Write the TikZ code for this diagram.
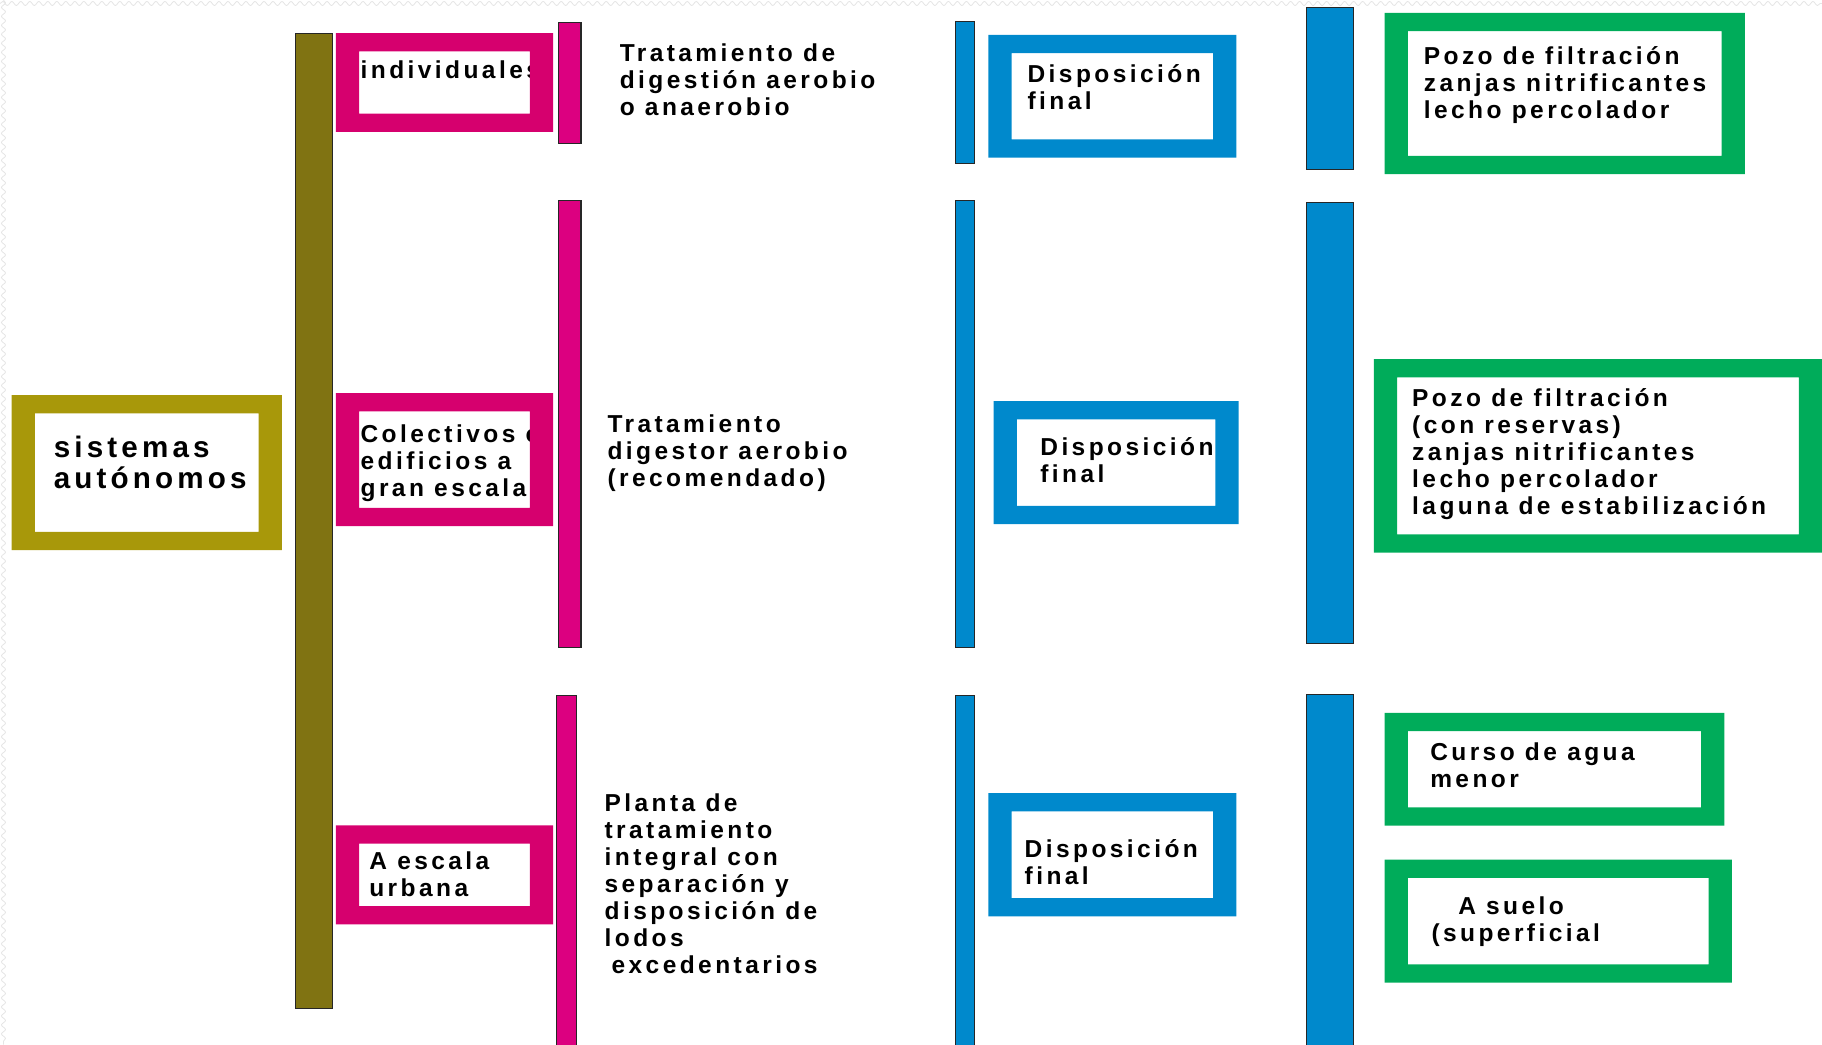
\documentclass[tikz,border=0pt]{standalone}
\usepackage{fontspec}
\newfontfamily\rotfont{Liberation Sans}[LetterSpace=14]
\usetikzlibrary{decorations.pathmorphing}

\definecolor{oro}{RGB}{168,152,10}
\definecolor{oliva}{RGB}{128,115,18}
\definecolor{rosa}{RGB}{214,0,110}
\definecolor{rosabar}{RGB}{220,0,128}
\definecolor{azul}{RGB}{0,137,204}
\definecolor{verde}{RGB}{0,172,90}

\tikzset{
  barra/.style={fill=#1, draw=black!85, line width=0.5pt},
  rotulo/.style={font=\rotfont\bfseries\fontsize{12}{13.2}\selectfont,
    align=left, anchor=base west, inner sep=0pt},
}
% marco de color: color, x1, y1, x2, y2
\newcommand{\marco}[5]{%
  \fill[#1, even odd rule] (#2,#3) rectangle (#4,#5)
    ({#2+20},{#3+15.7}) rectangle ({#4-20},{#5-15.7});}

\begin{document}
\begin{tikzpicture}[x=0.2mm,y=-0.2mm]
\useasboundingbox (0,0) rectangle (1568,899);
\draw[black!10, decorate, decoration={snake, segment length=1.55mm, amplitude=0.35mm}] (0,3) -- (1568,3);
\draw[black!10, decorate, decoration={snake, segment length=1.55mm, amplitude=0.35mm}] (3,0) -- (3,899);

% textos (anclados en la linea base de la ultima linea)
\node[rotulo, font=\rotfont\bfseries\fontsize{14.5}{15.3}\selectfont] (sis) at (46,420.4) {sistemas\\autónomos};
\node[rotulo] (indiv) at (310,67.5) {individuales};
\node[rotulo] (colec) at (310,427) {Colectivos o\\edificios a\\gran escala};
\node[rotulo] (urb) at (317.5,771.6) {A escala\\urbana};
\node[rotulo] (trat1) at (533,99) {Tratamiento de\\digestión aerobio\\o anaerobio};
\node[rotulo] (trat2) at (522.5,419) {Tratamiento\\digestor aerobio\\(recomendado)};
\node[rotulo] (planta) at (520,837.9) {Planta de\\tratamiento\\integral con\\separación y\\disposición de\\lodos\\\hspace*{1.2mm}excedentarios};
\node[rotulo] (disp1) at (884,94.6) {Disposición\\final};
\node[rotulo] (disp2) at (895,415.5) {Disposición\\final};
\node[rotulo] (disp3) at (881.5,761.5) {Disposición\\final};
\node[rotulo] (pozo1) at (1225,101.8) {Pozo de filtración\\zanjas nitrificantes\\lecho percolador};
\node[rotulo] (pozo2) at (1215,442.8) {Pozo de filtración\\(con reservas)\\zanjas nitrificantes\\lecho percolador\\laguna de estabilización};
\node[rotulo] (curso) at (1230.5,678) {Curso de agua\\menor};
\node[rotulo] (suelo) at (1231.6,810) {\hspace*{4.6mm}A suelo\\(superficial};

% marcos
\marco{oro}{10}{340}{242.5}{473.4}
\marco{rosa}{289}{28.5}{476}{113.4}
\marco{rosa}{289}{338.4}{476}{452.7}
\marco{rosa}{289}{710.3}{476}{795.5}
\marco{azul}{850.5}{30}{1064}{135.6}
\marco{azul}{855}{345.3}{1066}{451}
\marco{azul}{850.5}{682.6}{1064}{788.6}
\marco{verde}{1191.5}{11}{1501.6}{149.8}
\marco{verde}{1182.4}{309}{1568}{475.5}
\marco{verde}{1191.5}{613.4}{1484}{710.6}
\marco{verde}{1191.5}{739.7}{1490.5}{845.7}

% barras
\draw[barra=oliva] (254,29) rectangle (286,867.7);
\draw[barra=rosabar] (481,19) rectangle (500,123.7);
\draw[barra=rosabar] (481,172.8) rectangle (500,557.6);
\draw[barra=rosabar] (479,598.5) rectangle (496,905);
\draw[barra=azul] (822,18.3) rectangle (839,140.8);
\draw[barra=azul] (822,172.8) rectangle (839,557.6);
\draw[barra=azul] (822,598.5) rectangle (839,905);
\draw[barra=azul] (1124,6.4) rectangle (1165,145.5);
\draw[barra=azul] (1124,174.6) rectangle (1165,554.1);
\draw[barra=azul] (1124,598) rectangle (1165,905);
\end{tikzpicture}
\end{document}
